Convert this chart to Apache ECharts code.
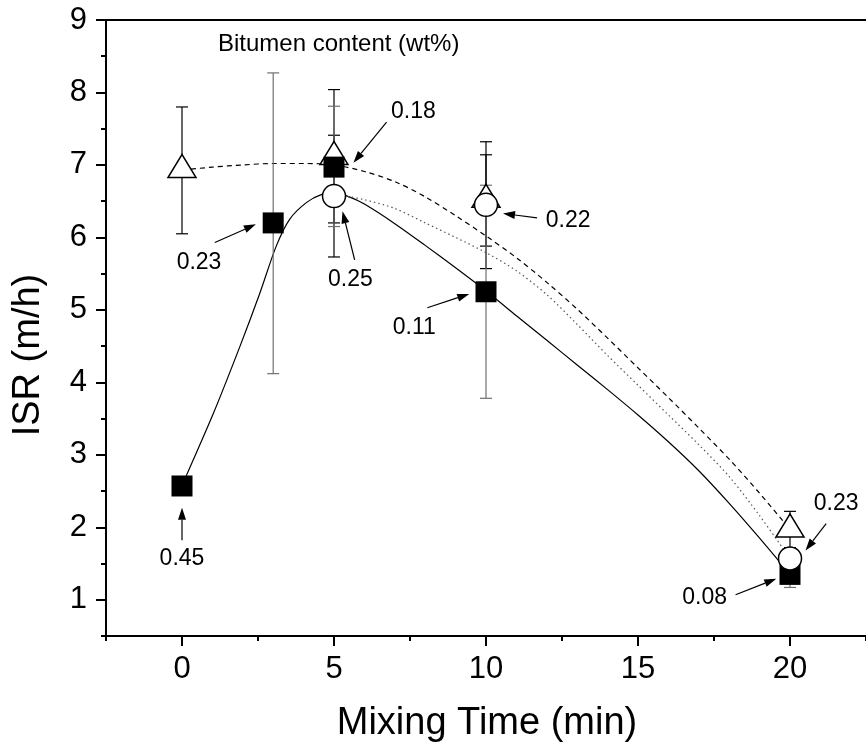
<!DOCTYPE html>
<html>
<head>
<meta charset="utf-8">
<script src="https://cdn.jsdelivr.net/npm/echarts@6/dist/echarts.min.js"></script>
<style>
  html, body { margin: 0; padding: 0; background: #fff; }
  #chart { width: 866px; height: 753px; }
</style>
</head>
<body>
<div id="chart"></div>
<script>
// ---- Measured ISR values (m/h) by mixing time (min) ----
const squareX = [0, 3, 5, 10, 20];
const squareY = [2.57, 6.2, 6.97, 5.25, 1.35];
const squareLow = [null, 4.12, 6.15, 3.78, 1.17];
const squareHigh = [null, 8.27, 7.81, 6.72, 1.49];

const triangleX = [0, 5, 10, 20];
const triangleY = [6.93, 7.11, 6.52, 1.97];
const triangleLow = [6.05, 6.2, 5.88, 1.72];
const triangleHigh = [7.8, 8.04, 7.32, 2.22];

const circleX = [5, 10, 20];
const circleY = [6.57, 6.45, 1.57];
const circleLow = [5.73, 5.57, 1.42];
const circleHigh = [7.41, 7.14, 1.72];

// ---- Smoothed trend curves ----
const squareCurve = [[0, 2.57], [0.15, 2.72], [1.03, 3.57], [1.9, 4.49], [2.56, 5.23], [3.1, 5.88],
  [3.54, 6.25], [4.09, 6.48], [4.58, 6.59], [5.0, 6.61], [5.5, 6.56], [6, 6.46], [7, 6.19], [8, 5.89],
  [9, 5.58], [10, 5.26], [11, 4.92], [12, 4.58], [13, 4.24], [14, 3.9], [15, 3.55], [16, 3.18],
  [17, 2.78], [18, 2.33], [19, 1.85], [20, 1.35]];
const triangleCurve = [[0, 6.93], [1, 6.97], [2, 7.0], [3, 7.02], [4, 7.02], [5, 7.0], [6, 6.91],
  [7, 6.77], [8, 6.56], [9, 6.3], [10, 6.02], [11, 5.72], [12, 5.38], [13, 5.01], [14, 4.61],
  [15, 4.2], [16, 3.79], [17, 3.37], [18, 2.94], [19, 2.47], [20, 1.97]];
const circleCurve = [[5, 6.57], [5.5, 6.56], [6, 6.52], [7, 6.4], [8, 6.2], [9, 6.0], [10, 5.79],
  [11, 5.54], [12, 5.21], [13, 4.8], [14, 4.37], [15, 3.96], [16, 3.55], [17, 3.14], [18, 2.7],
  [19, 2.16], [20, 1.57]];

// ---- Bitumen content call-outs: text, arrow tail, arrow tip, text centre ----
const noteText = ['0.45', '0.23', '0.25', '0.18', '0.22', '0.11', '0.23', '0.08'];
const noteTail = [[0, 1.82], [1.08, 5.93], [5.68, 5.69], [6.73, 7.59], [11.68, 6.27], [8.07, 5.03], [21.19, 2.05], [18.21, 1.07]];
const noteTip = [[0, 2.27], [2.43, 6.18], [5.28, 6.36], [5.64, 7.03], [10.56, 6.33], [9.45, 5.22], [20.51, 1.68], [19.55, 1.29]];
const notePos = [[0, 1.57], [0.56, 5.65], [5.54, 5.42], [7.61, 7.73], [12.7, 6.23], [7.64, 4.75], [21.52, 2.33], [17.19, 1.03]];

// ---- Axis ticks ----
const xTicks = [0, 5, 10, 15, 20];
const xMinorTicks = [-2.5, 2.5, 7.5, 12.5, 17.5, 22.5];
const yTicks = [1, 2, 3, 4, 5, 6, 7, 8, 9];
const yMinorTicks = [0.5, 1.5, 2.5, 3.5, 4.5, 5.5, 6.5, 7.5, 8.5];

const FONT = '"Liberation Sans", Arial, Helvetica, sans-serif';

function zip(xs, ys) { return xs.map((x, i) => [x, ys[i]]); }
function bars(xs, lo, hi) {
  const out = [];
  xs.forEach((x, i) => { if (lo[i] != null) out.push([x, lo[i], hi[i]]); });
  return out;
}

function errorBarRenderer(color) {
  return function (params, api) {
    const x = api.value(0);
    const pLo = api.coord([x, api.value(1)]);
    const pHi = api.coord([x, api.value(2)]);
    const half = 6;
    const style = { stroke: color, lineWidth: 1.2, fill: null };
    return {
      type: 'group',
      children: [
        { type: 'line', shape: { x1: pLo[0], y1: pLo[1], x2: pHi[0], y2: pHi[1] }, style },
        { type: 'line', shape: { x1: pLo[0] - half, y1: pLo[1], x2: pLo[0] + half, y2: pLo[1] }, style },
        { type: 'line', shape: { x1: pHi[0] - half, y1: pHi[1], x2: pHi[0] + half, y2: pHi[1] }, style }
      ]
    };
  };
}

const noteData = noteText.map((t, i) => [noteTail[i][0], noteTail[i][1], noteTip[i][0], noteTip[i][1], notePos[i][0], notePos[i][1]]);

function renderNote(params, api) {
  const i = params.dataIndex;
  const tail = api.coord([api.value(0), api.value(1)]);
  const tip = api.coord([api.value(2), api.value(3)]);
  const pos = api.coord([api.value(4), api.value(5)]);
  const dx = tip[0] - tail[0], dy = tip[1] - tail[1];
  const len = Math.sqrt(dx * dx + dy * dy) || 1;
  const ux = dx / len, uy = dy / len;
  const headLen = 12, headHalf = 4;
  const bx = tip[0] - ux * headLen, by = tip[1] - uy * headLen;
  const nx = -uy, ny = ux;
  return {
    type: 'group',
    children: [
      { type: 'line', shape: { x1: tail[0], y1: tail[1], x2: bx, y2: by }, style: { stroke: '#000', lineWidth: 1.2 } },
      { type: 'polygon', shape: { points: [[tip[0], tip[1]], [bx + nx * headHalf, by + ny * headHalf], [bx - nx * headHalf, by - ny * headHalf]] }, style: { fill: '#000' } },
      { type: 'text', x: pos[0], y: pos[1], style: { text: noteText[i], fontSize: 23, fontFamily: FONT, fill: '#000', align: 'center', verticalAlign: 'middle' } }
    ]
  };
}

const axisLineStyle = { color: '#000', width: 2 };

const chart = echarts.init(document.getElementById('chart'), null, { renderer: 'canvas' });
chart.setOption({
  animation: false,
  backgroundColor: '#fff',
  grid: { left: 106, top: 20, width: 762, height: 616, containLabel: false },
  xAxis: [
    {
      type: 'value', min: -2.5, max: 22.5, position: 'bottom',
      axisLine: { onZero: false, lineStyle: axisLineStyle },
      axisTick: { customValues: xTicks, length: 10, lineStyle: { color: '#000', width: 2 } },
      axisLabel: { customValues: xTicks, fontSize: 31, fontFamily: FONT, color: '#000', margin: 18 },
      splitLine: { show: false }
    },
    {
      type: 'value', min: -2.5, max: 22.5, position: 'bottom',
      axisLine: { show: false },
      axisTick: { customValues: xMinorTicks, length: 5, lineStyle: { color: '#000', width: 2 } },
      axisLabel: { show: false },
      splitLine: { show: false }
    },
    {
      type: 'value', min: -2.5, max: 22.5, position: 'top',
      axisLine: { onZero: false, lineStyle: axisLineStyle },
      axisTick: { show: false },
      axisLabel: { show: false },
      splitLine: { show: false }
    }
  ],
  yAxis: [
    {
      type: 'value', min: 0.5, max: 9, position: 'left',
      axisLine: { onZero: false, lineStyle: axisLineStyle },
      axisTick: { customValues: yTicks, length: 10, lineStyle: { color: '#000', width: 2 } },
      axisLabel: { customValues: yTicks, fontSize: 31, fontFamily: FONT, color: '#000', margin: 19 },
      splitLine: { show: false }
    },
    {
      type: 'value', min: 0.5, max: 9, position: 'left',
      axisLine: { show: false, onZero: false },
      axisTick: { customValues: yMinorTicks, length: 5, lineStyle: { color: '#000', width: 2 } },
      axisLabel: { show: false },
      splitLine: { show: false }
    }
  ],
  graphic: [
    { type: 'text', left: 218, top: 32, style: { text: 'Bitumen content (wt%)', fontSize: 24, fontFamily: FONT, fill: '#000' } },
    { type: 'text', x: 29, y: 355, rotation: Math.PI / 2, style: { text: 'ISR (m/h)', fontSize: 38, fontFamily: FONT, fill: '#000', align: 'center', verticalAlign: 'middle' } },
    { type: 'text', x: 487, y: 724, style: { text: 'Mixing Time (min)', fontSize: 38, fontFamily: FONT, fill: '#000', align: 'center', verticalAlign: 'middle' } }
  ],
  series: [
    { type: 'line', data: squareCurve, smooth: 0.3, symbol: 'none', z: 2, lineStyle: { color: '#000', width: 1.2, type: 'solid' } },
    { type: 'line', data: triangleCurve, smooth: 0.3, symbol: 'none', z: 2, lineStyle: { color: '#000', width: 1.2, type: [5, 4] } },
    { type: 'line', data: circleCurve, smooth: 0.3, symbol: 'none', z: 2, lineStyle: { color: '#555', width: 1.2, type: [1.5, 3] } },
    { type: 'custom', data: bars(triangleX, triangleLow, triangleHigh), renderItem: errorBarRenderer('#000'), z: 3, clip: false },
    { type: 'custom', data: bars(circleX, circleLow, circleHigh), renderItem: errorBarRenderer('#000'), z: 3, clip: false },
    { type: 'custom', data: bars(squareX, squareLow, squareHigh), renderItem: errorBarRenderer('#707070'), z: 3, clip: false },
    { type: 'scatter', data: zip(triangleX, triangleY), symbol: 'triangle', symbolSize: [28, 23], symbolOffset: [0, -4], z: 4,
      itemStyle: { color: '#fff', borderColor: '#000', borderWidth: 1.5, opacity: 1 } },
    { type: 'scatter', data: zip(squareX, squareY), symbol: 'rect', symbolSize: 21, z: 5,
      itemStyle: { color: '#000', opacity: 1 } },
    { type: 'scatter', data: zip(circleX, circleY), symbol: 'circle', symbolSize: 23, z: 6,
      itemStyle: { color: '#fff', borderColor: '#000', borderWidth: 1.5, opacity: 1 } },
    { type: 'custom', data: noteData, renderItem: renderNote, z: 7, clip: false,
      dimensions: ['tx', 'ty', 'px', 'py', 'lx', 'ly'], encode: { x: [0, 2, 4], y: [1, 3, 5] } }
  ]
});
</script>
</body>
</html>
